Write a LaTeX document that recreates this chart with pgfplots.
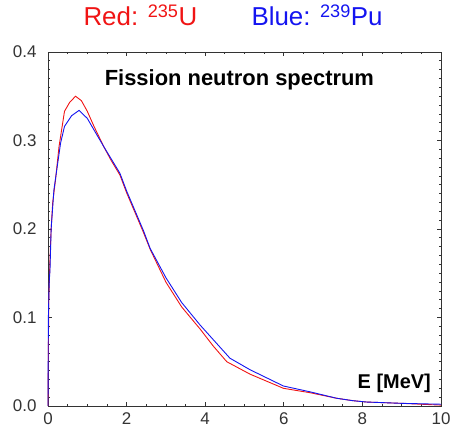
\documentclass[border=0pt]{standalone}
\usepackage{fontspec}
\setmainfont{Liberation Sans}
\usepackage{pgfplots}
\pgfplotsset{compat=1.18}
\definecolor{uRed}{RGB}{240,20,20}
\definecolor{puBlue}{RGB}{20,20,240}

% U-235 (red)
\pgfplotstableread{
E     v
0     0.0
0.005 0.037
0.02  0.12
0.05  0.165
0.08  0.200
0.12  0.230
0.19  0.255
0.28  0.293
0.42  0.333
0.55  0.343
0.70  0.350
0.85  0.345
1.00  0.333
1.17  0.316
1.42  0.293
1.60  0.278
1.83  0.261
2.00  0.241
2.43  0.196
2.60  0.177
3.00  0.140
3.40  0.112
3.87  0.087
4.20  0.068
4.55  0.050
5.14  0.036
5.99  0.020
6.67  0.015
7.35  0.0087
7.76  0.006
8.10  0.0045
9.00  0.003
10.0  0.001
}\uranium

% Pu-239 (blue)
\pgfplotstableread{
E     v
0     0.0
0.01  0.100
0.03  0.140
0.05  0.153
0.08  0.200
0.15  0.244
0.32  0.297
0.42  0.316
0.60  0.328
0.79  0.334
1.00  0.325
1.17  0.312
1.42  0.293
1.83  0.263
2.00  0.243
2.43  0.198
2.60  0.178
3.00  0.145
3.40  0.117
3.87  0.0915
4.63  0.054
5.14  0.041
5.99  0.0226
6.67  0.016
7.35  0.0087
7.76  0.006
8.10  0.0045
9.00  0.003
10.0  0.002
}\plutonium

\begin{document}
\begin{tikzpicture}
\begin{axis}[
    scale only axis,
    width=393bp,
    height=354bp,
    xmin=0, xmax=10,
    ymin=0, ymax=0.4,
    xtick={0,2,...,10},
    ytick={0,0.1,...,0.4},
    minor x tick num=3,
    minor y tick num=9,
    tick align=inside,
    major tick length=4bp,
    minor tick length=2bp,
    ticklabel style={font=\fontsize{17}{17}\selectfont, text=black!80},
    yticklabel style={xshift=-8bp},
    xticklabel style={yshift=-3bp},
    /pgf/number format/assume math mode=true,
    /pgf/number format/fixed,
    /pgf/number format/fixed zerofill,
    /pgf/number format/precision=1,
    xticklabel style={/pgf/number format/precision=0, /pgf/number format/fixed zerofill=false},
    axis line style={black!80, line width=0.8pt},
    every tick/.style={black!80, line width=0.8pt},
    clip=false,
]
\addplot[uRed, line width=0.9pt] table[x=E, y=v] {\uranium};
\addplot[puBlue, line width=0.9pt] table[x=E, y=v] {\plutonium};
\node[font=\fontsize{22}{22}\selectfont\bfseries, anchor=center] at (axis cs:4.87,0.369) {Fission neutron spectrum};
\node[font=\fontsize{20}{20}\selectfont\bfseries, anchor=east] at (axis cs:9.83,0.026) {E [MeV]};
\end{axis}
\node[font=\fontsize{26}{26}\selectfont, text=uRed, anchor=base west] at (32bp,380bp) {Red: \textsuperscript{235}U};
\node[font=\fontsize{26}{26}\selectfont, text=puBlue, anchor=base west] at (200bp,380bp) {Blue: \textsuperscript{239}Pu};
\pgfresetboundingbox
\path (-48bp,-28bp) rectangle (404bp,406bp);
\end{tikzpicture}
\end{document}
